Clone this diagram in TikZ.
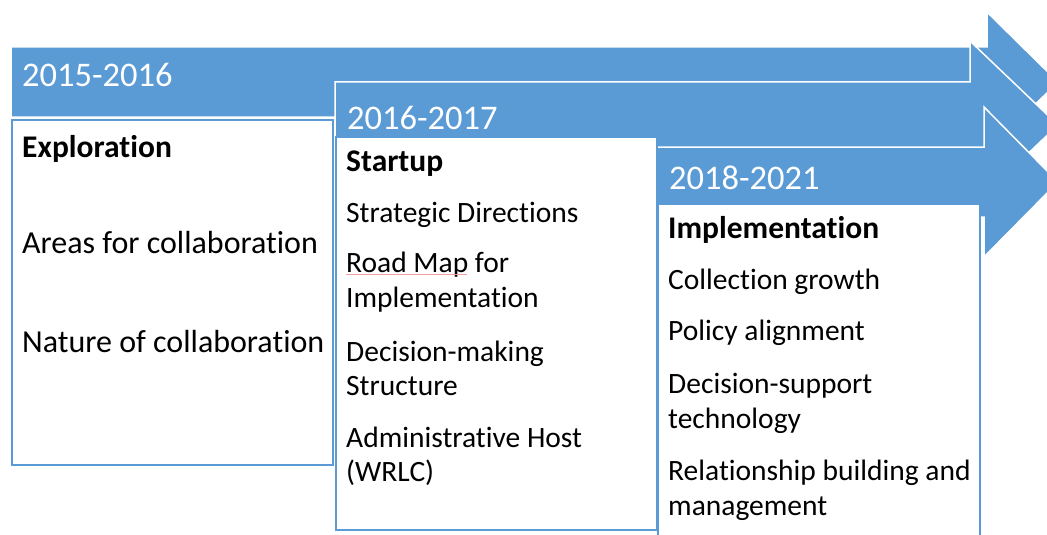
\documentclass[tikz,border=0pt]{standalone}
\usepackage{fontspec}
\setmainfont[Ligatures=NoCommon]{Carlito}
\definecolor{accent}{HTML}{5B9BD5}
\definecolor{squig}{HTML}{F2A0A0}
\begin{document}
\begin{tikzpicture}[x=1pt,y=-1pt,
  arrowshape/.style={fill=accent,draw=white,line width=1.5pt,line join=miter},
  panel/.style={fill=white,draw=accent,line width=2pt},
  yeartxt/.style={anchor=base west,inner sep=0pt,text=white,font=\fontsize{34.5}{40}\selectfont},
  headtxt/.style={anchor=base west,inner sep=0pt,font=\fontsize{31.5}{36}\selectfont\bfseries},
  itemA/.style={anchor=base west,inner sep=0pt,font=\fontsize{32}{36}\selectfont},
  itemB/.style={anchor=base west,inner sep=0pt,font=\fontsize{29.5}{35}\selectfont}]
\useasboundingbox (0,0) rectangle (1047,535);
\clip (0,0) rectangle (1047,535);
% arrows
\draw[arrowshape] (11,47) -- (987,47) -- (987,12) -- (1058,82) -- (987,152) -- (987,117) -- (11,117) -- cycle;
\draw[arrowshape] (335,82) -- (970,82) -- (970,41) -- (1058,125) -- (970,209) -- (970,168) -- (335,168) -- cycle;
\draw[arrowshape] (657,147) -- (984,147) -- (984,107) -- (1058,182) -- (984,257) -- (984,217) -- (657,217) -- cycle;
% panels
\node[panel,inner sep=0pt,minimum width=321pt,minimum height=345pt,anchor=north west] (p1) at (11,119) {};
\node[panel,inner sep=0pt,minimum width=321pt,minimum height=393pt,anchor=north west] (p2) at (335,136) {};
\node[panel,inner sep=0pt,minimum width=322pt,minimum height=360pt,anchor=north west] (p3) at (657,203) {};
% year labels
\node[yeartxt] (y1) at (22,87) {2015-2016};
\node[yeartxt] (y2) at (347,129) {2016-2017};
\node[yeartxt] (y3) at (669,189) {2018-2021};
% panel 1
\node[headtxt] (h1) at (22,157) {Exploration};
\node[itemA] (a1) at (22,253) {Areas for collaboration};
\node[itemA] (a2) at (22,352) {Nature of collaboration};
% panel 2
\node[headtxt] (h2) at (346,171) {Startup};
\node[itemB] (b1) at (346,222) {Strategic Directions};
\node[itemB] (b2) at (346,272) {Road Map for};
\node[itemB] (b2b) at (346,307) {Implementation};
\node[itemB] (b3) at (346,361) {Decision-making};
\node[itemB] (b3b) at (346,395) {Structure};
\node[itemB] (b4) at (346,447) {Administrative Host};
\node[itemB] (b4b) at (346,481) {(WRLC)};
\coordinate (sq1) at (346,274.5);
\coordinate (sq2) at (467,274.5);
\draw[squig,line width=0.8pt] (sq1) -- (sq2);
% panel 3
\node[headtxt] (h3) at (668,238) {Implementation};
\node[itemB] (c1) at (668,289) {Collection growth};
\node[itemB] (c2) at (668,340) {Policy alignment};
\node[itemB] (c3) at (668,393) {Decision-support};
\node[itemB] (c3b) at (668,428) {technology};
\node[itemB] (c4) at (668,480) {Relationship building and};
\node[itemB] (c4b) at (668,515) {management};
\end{tikzpicture}
\end{document}
